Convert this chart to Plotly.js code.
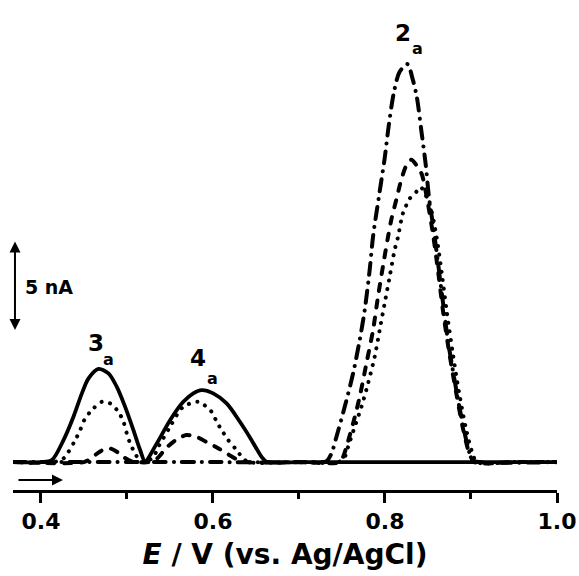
<!DOCTYPE html>
<html>
<head>
<meta charset="utf-8">
<script src="https://cdn.plot.ly/plotly-3.0.1.min.js"></script>
<style>
  html, body { margin: 0; padding: 0; background: #fff; }
  #plot { width: 579px; height: 576px; }
  /* round caps turn the short dash segments into round dots */
  .scatterlayer .js-line { stroke-linecap: round; stroke-linejoin: round; }
</style>
</head>
<body>
<div id="plot"></div>
<script>
// Differential pulse voltammograms: potential E (V vs. Ag/AgCl) and current I (nA)

// solid trace: peaks 3a and 4a
const E_solid = [0.3675, 0.400, 0.4127, 0.4262, 0.4378, 0.4476, 0.4553, 0.4669, 0.4785, 0.4882, 0.4979, 0.5075, 0.5153, 0.5211,
                 0.5347, 0.5501, 0.5655, 0.5771, 0.5869, 0.6003, 0.6159, 0.6313, 0.6449, 0.6565, 0.6623, 0.700, 0.850, 1.000];
const I_solid = [0, 0, 0.11, 1.22, 2.52, 3.82, 4.65, 5.18, 4.93, 4.18, 3.07, 1.78, 0.67, 0.05,
                 1.04, 2.33, 3.35, 3.82, 4.00, 3.82, 3.26, 2.24, 1.22, 0.29, 0.02, 0, 0, 0];

// dotted trace: peaks 3a, 4a and 2a
const E_dot = [0.3675, 0.415, 0.4262, 0.4320, 0.4398, 0.4456, 0.4514, 0.4592, 0.4708, 0.4805, 0.4901, 0.4959, 0.4998, 0.5037, 0.5095, 0.5153, 0.5210,
               0.5307, 0.5365, 0.5423, 0.5501, 0.5579, 0.5655, 0.5829, 0.5985, 0.6043, 0.6101, 0.6178, 0.6275, 0.6352, 0.6420, 0.700,
               0.7460, 0.7532, 0.7571, 0.7648, 0.7726, 0.7803, 0.7880, 0.7938, 0.7996, 0.8054, 0.8112, 0.8151, 0.8202, 0.8240, 0.8279, 0.8365, 0.8414,
               0.8520, 0.8600, 0.8660, 0.8720, 0.8790, 0.8860, 0.8940, 0.9010, 0.9070, 0.950, 1.000];
const I_dot = [0, 0, 0.20, 0.57, 1.22, 1.78, 2.43, 2.89, 3.35, 3.26, 2.79, 2.24, 1.59, 1.04, 0.48, 0.05, 0,
               0.29, 0.85, 1.32, 1.96, 2.61, 3.07, 3.35, 2.79, 2.24, 1.78, 1.22, 0.67, 0.20, 0, 0,
               0, 0.29, 0.85, 1.96, 3.07, 4.37, 5.85, 7.33, 8.82, 10.29, 11.78, 12.50, 13.72, 14.18, 14.59, 15.02, 15.28,
               14.30, 12.50, 10.50, 8.30, 6.00, 3.90, 1.90, 0.60, 0, 0, 0];

// dashed trace: small 3a, 4a and 2a
const E_dash = [0.3675, 0.450, 0.458, 0.466, 0.474, 0.481, 0.489, 0.497, 0.505, 0.525, 0.535, 0.545, 0.556, 0.569, 0.581, 0.593, 0.605, 0.617, 0.628, 0.640, 0.700,
                0.7473, 0.7513, 0.7552, 0.7629, 0.7706, 0.7784, 0.7861, 0.7919, 0.7977, 0.8035, 0.8075, 0.8133, 0.8190, 0.8250, 0.8306, 0.8365,
                0.8427, 0.8490, 0.8560, 0.8620, 0.8680, 0.8750, 0.8830, 0.8910, 0.8980, 0.9040, 0.950, 1.000];
const I_dash = [0, 0, 0.20, 0.50, 0.72, 0.75, 0.55, 0.25, 0.05, 0, 0.20, 0.75, 1.20, 1.50, 1.40, 1.10, 0.80, 0.45, 0.15, 0, 0,
                0, 0.29, 0.85, 2.15, 3.63, 5.48, 7.33, 9.20, 10.90, 12.50, 13.50, 14.60, 15.70, 16.50, 16.80, 16.50,
                16.00, 14.60, 12.60, 10.50, 8.20, 6.00, 3.80, 1.80, 0.50, 0, 0, 0];

// dash-dot trace: 2a only
const E_dashdot = [0.3675, 0.600, 0.720, 0.7320, 0.7378, 0.7436, 0.7532, 0.7629, 0.7706, 0.7764, 0.7822, 0.7861, 0.7938, 0.7996, 0.8043, 0.8101, 0.8170, 0.8260,
                   0.8325, 0.8371, 0.8422, 0.8472, 0.8511, 0.8557, 0.8597, 0.8655, 0.8731, 0.8809, 0.8887, 0.8964, 0.9018, 0.910, 1.000];
const I_dashdot = [0, 0, 0, 0.05, 0.48, 1.41, 3.07, 4.93, 6.78, 8.44, 10.67, 12.52, 15.02, 16.87, 18.67, 20.48, 21.68, 22.11,
                   21.22, 20.26, 18.44, 16.59, 14.74, 13.20, 11.80, 9.60, 6.78, 4.56, 2.52, 0.85, 0.11, 0, 0];

// axis ticks
const majorTicks = [0.4, 0.6, 0.8, 1.0];
const majorLabels = ['0.4', '0.6', '0.8', '1.0'];
const minorTicks = [0.5, 0.7, 0.9];

// peak labels
const peakNames = ['3', '4', '2'];
const peakNameE = [0.4639, 0.5823, 0.8210];
const peakNameI = [6.60, 5.78, 23.85];
const peakSubE = [0.4790, 0.5992, 0.8375];
const peakSubI = [5.72, 4.67, 22.96];

// current scale bar
const scaleBarE = 0.3698;
const scaleBarFrom = 7.25;   // nA
const scaleBarSize = 5;      // nA

// scan direction arrow
const scanArrowE = [0.3721, 0.4256];
const scanArrowI = -1.0;

const FONT = 'DejaVu Sans, Verdana, sans-serif';

function trace(x, y, dash, width) {
  return {
    x: x, y: y, type: 'scatter', mode: 'lines',
    line: { color: '#000', width: width, dash: dash, shape: 'spline', smoothing: 0.8 },
    hoverinfo: 'skip'
  };
}

const data = [
  trace(E_dashdot, I_dashdot, '12px,8px,0.1px,8px', 4),
  trace(E_dash, I_dash, '7px,10px', 4),
  trace(E_dot, I_dot, '0.1px,8.5px', 4),
  trace(E_solid, I_solid, 'solid', 3.8)
];

const annotations = [];
for (let i = 0; i < peakNames.length; i++) {
  annotations.push({
    x: peakNameE[i], y: peakNameI[i], xref: 'x', yref: 'y', showarrow: false,
    text: '<b>' + peakNames[i] + '</b>', font: { family: FONT, size: 23, color: '#000' },
    xanchor: 'center', yanchor: 'middle'
  });
  annotations.push({
    x: peakSubE[i], y: peakSubI[i], xref: 'x', yref: 'y', showarrow: false,
    text: '<b>a</b>', font: { family: FONT, size: 16, color: '#000' },
    xanchor: 'center', yanchor: 'middle'
  });
}
// 5 nA scale bar, double headed
annotations.push({
  x: scaleBarE, y: scaleBarFrom + scaleBarSize, ax: scaleBarE, ay: scaleBarFrom,
  xref: 'x', yref: 'y', axref: 'x', ayref: 'y', text: '',
  showarrow: true, arrowhead: 2, startarrowhead: 2, arrowside: 'end+start',
  arrowsize: 1.1, startarrowsize: 1.1, arrowwidth: 2, arrowcolor: '#000'
});
annotations.push({
  x: scaleBarE + 0.0093, y: scaleBarFrom + scaleBarSize / 2, xref: 'x', yref: 'y',
  showarrow: false, text: '<b>' + scaleBarSize + ' nA</b>',
  font: { family: FONT, size: 19, color: '#000' }, xanchor: 'left', yanchor: 'middle'
});
// scan direction
annotations.push({
  x: scanArrowE[1], y: scanArrowI, ax: scanArrowE[0], ay: scanArrowI,
  xref: 'x', yref: 'y', axref: 'x', ayref: 'y', text: '',
  showarrow: true, arrowhead: 2, arrowsize: 1.1, arrowwidth: 2, arrowcolor: '#000'
});

const layout = {
  width: 579, height: 576,
  margin: { l: 13, r: 22, t: 20, b: 86 },
  paper_bgcolor: '#fff', plot_bgcolor: '#fff',
  showlegend: false,
  font: { family: FONT, color: '#000' },
  xaxis: {
    range: [0.3675, 1.0], fixedrange: true,
    tickvals: majorTicks, ticktext: majorLabels,
    ticks: 'outside', ticklen: 10, tickwidth: 3, tickcolor: '#000',
    showline: true, linewidth: 3, linecolor: '#000',
    showgrid: false, zeroline: false,
    tickfont: { family: FONT, size: 22, color: '#000', weight: 'bold' },
    minor: { tickvals: minorTicks, ticks: 'outside', ticklen: 6, tickwidth: 3, tickcolor: '#000', showgrid: false },
    title: { text: '<b><i>E</i> / V (vs. Ag/AgCl)</b>', font: { family: FONT, size: 28, color: '#000' }, standoff: 11 },
    automargin: false
  },
  yaxis: { visible: false, range: [-1.55, 24.56], fixedrange: true },
  annotations: annotations
};

Plotly.newPlot('plot', data, layout, { staticPlot: true, displayModeBar: false });
</script>
</body>
</html>
